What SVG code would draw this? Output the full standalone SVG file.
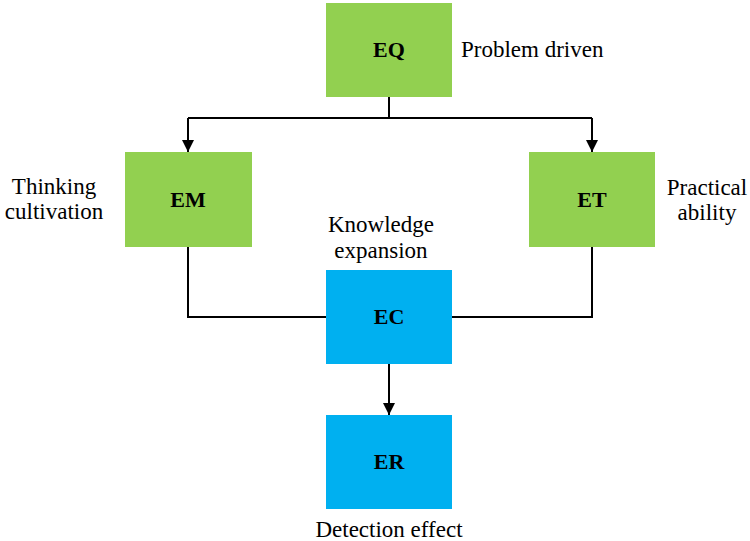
<svg xmlns="http://www.w3.org/2000/svg" width="750" height="541" viewBox="0 0 750 541">
<style>
.g{fill:#92D050}
.b{fill:#00B0F0}
.t{font-family:"Liberation Serif",serif;font-size:22px;font-weight:bold;fill:#000;text-anchor:middle}
.l{font-family:"Liberation Serif",serif;font-size:23px;fill:#000}
.c{text-anchor:middle}
.w{fill:none;stroke:#000;stroke-width:2}
</style>
<defs>
<marker id="ah" viewBox="0 0 12 12" refX="12" refY="6" markerWidth="12" markerHeight="12" markerUnits="userSpaceOnUse" orient="auto">
<path d="M0,0 L12,6 L0,12 Z" fill="#000"/>
</marker>
</defs>
<rect width="750" height="541" fill="#fff"/>
<g id="connectors">
<path class="w" d="M389,97 V118"/>
<path class="w" d="M188,118 H592"/>
<path class="w" d="M188,118 V152" marker-end="url(#ah)"/>
<path class="w" d="M592,118 V152" marker-end="url(#ah)"/>
<path class="w" d="M188,247 V317 H326"/>
<path class="w" d="M592,247 V317 H452"/>
<path class="w" d="M389,364 V415" marker-end="url(#ah)"/>
</g>
<g id="EQ">
<rect class="g" x="326" y="3" width="126" height="94"/>
<text class="t" x="389" y="57">EQ</text>
<text class="l" x="461" y="57">Problem driven</text>
</g>
<g id="EM">
<rect class="g" x="125" y="152" width="127" height="95"/>
<text class="t" x="188" y="207">EM</text>
<text class="l c" x="54" y="194">Thinking</text>
<text class="l c" x="54" y="219">cultivation</text>
</g>
<g id="ET">
<rect class="g" x="529" y="152" width="126" height="95"/>
<text class="t" x="592" y="207">ET</text>
<text class="l c" x="707" y="195">Practical</text>
<text class="l c" x="707" y="220">ability</text>
</g>
<g id="EC">
<rect class="b" x="326" y="270" width="126" height="94"/>
<text class="t" x="389" y="324">EC</text>
<text class="l c" x="381" y="232">Knowledge</text>
<text class="l c" x="381" y="258">expansion</text>
</g>
<g id="ER">
<rect class="b" x="326" y="415" width="126" height="94"/>
<text class="t" x="389" y="469">ER</text>
<text class="l c" x="389" y="537">Detection effect</text>
</g>
</svg>
